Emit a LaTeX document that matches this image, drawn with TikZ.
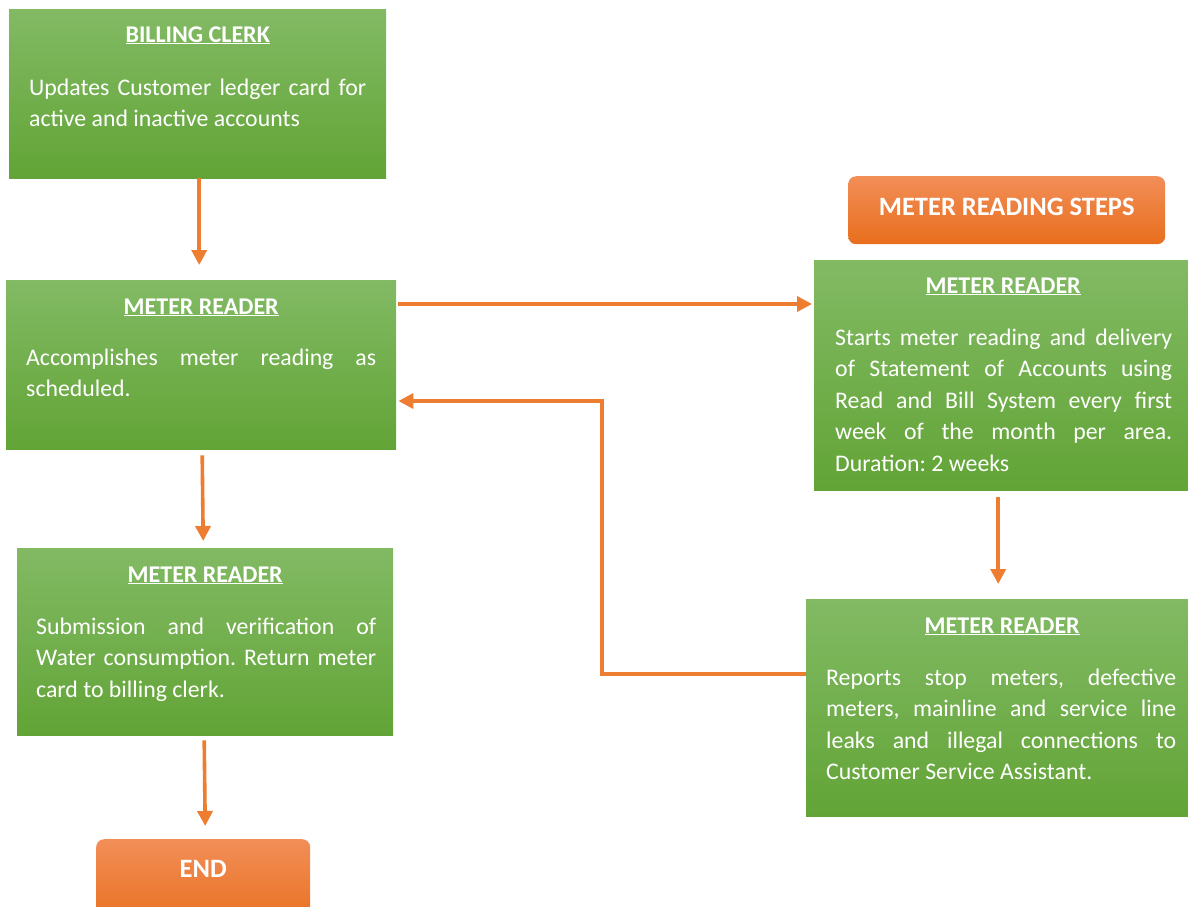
\documentclass[tikz,border=0pt]{standalone}
\usepackage{fontspec}
\setmainfont{Carlito}
\usetikzlibrary{arrows.meta,calc}
\definecolor{arrc}{RGB}{237,125,49}
\definecolor{gtop}{RGB}{130,186,100}
\definecolor{gmid}{RGB}{112,173,71}
\definecolor{gbot}{RGB}{98,164,54}
\definecolor{otop}{RGB}{242,142,88}
\definecolor{omid}{RGB}{241,124,40}
\definecolor{obot}{RGB}{232,110,28}
\begin{document}
\begin{tikzpicture}[x=1pt,y=-1pt,
  gbox/.style={rectangle,draw=none,inner sep=0pt,anchor=north west,
    top color=gtop,middle color=gmid,bottom color=gbot},
  obox/.style={rectangle,rounded corners=8pt,draw=none,inner sep=0pt,anchor=north west,
    top color=otop,middle color=omid,bottom color=obot},
  ttl/.style={anchor=base,inner sep=0pt,text=white,font=\fontsize{24}{28}\selectfont\bfseries},
  ottl/.style={anchor=base,inner sep=0pt,text=white,font=\fontsize{26.5}{30}\selectfont\bfseries},
  bodytext/.style={anchor=base west,inner sep=0pt,text=white,align=justify,
    font=\fontsize{23.8}{31.5}\selectfont\frenchspacing},
  arr/.style={draw=arrc,line width=3.6pt,-{Triangle[length=15pt,width=15pt]}}]
\useasboundingbox (0,0) rectangle (1188,906);
\clip (0,0) rectangle (1188,906);

% boxes
\node[gbox,minimum width=377pt,minimum height=169pt] (b1) at (9,9) {};
\node[gbox,minimum width=390pt,minimum height=169pt] (b2) at (6,280) {};
\node[gbox,minimum width=378pt,minimum height=230pt] (b3) at (814,260) {};
\node[gbox,minimum width=392pt,minimum height=217pt] (b4) at (806,599) {};
\node[gbox,minimum width=376pt,minimum height=187pt] (b5) at (17,548) {};
\node[obox,minimum width=317pt,minimum height=68pt] (steps) at (848,176) {};
\node[obox,minimum width=214pt,minimum height=90pt] (endb) at (96,839) {};

% titles
\node[ttl] (b1t) at ($(b1.north)+(0,33)$) {\underline{BILLING CLERK}};
\node[ttl] (b2t) at ($(b2.north)+(0,34)$) {\underline{METER READER}};
\node[ttl] (b3t) at ($(b3.north)+(0,33)$) {\underline{METER READER}};
\node[ttl] (b4t) at ($(b4.north)+(0,34)$) {\underline{METER READER}};
\node[ttl] (b5t) at ($(b5.north)+(0,34)$) {\underline{METER READER}};
\node[ottl] (stepst) at ($(steps.north)+(0,39)$) {METER READING STEPS};
\node[ottl] (endt) at ($(endb.north)+(0,38)$) {END};

% body texts
\node[bodytext,text width=337pt] (b1b) at ($(b1.north west)+(20,86)$)
  {Updates Customer ledger card for\linebreak active and inactive accounts};
\node[bodytext,text width=350pt] (b2b) at ($(b2.north west)+(20,85)$)
  {Accomplishes meter reading as\linebreak scheduled.};
\node[bodytext,text width=337pt] (b3b) at ($(b3.north west)+(21,85)$)
  {Starts meter reading and delivery\linebreak of Statement of Accounts using\linebreak Read and Bill System every first\linebreak week of the month per area.\linebreak Duration: 2 weeks};
\node[bodytext,text width=350pt] (b4b) at ($(b4.north west)+(20,86)$)
  {Reports stop meters, defective\linebreak meters, mainline and service line\linebreak leaks and illegal connections to\linebreak Customer Service Assistant.};
\node[bodytext,text width=340pt] (b5b) at ($(b5.north west)+(19,86)$)
  {Submission and verification of\linebreak Water consumption. Return meter\linebreak card to billing clerk.};

% connectors
\coordinate (elb) at (602,674);
\draw[arr] ($(b1.south)+(1.5,0)$) -- ($(b2.north)+(-2,-15)$);
\draw[arr] ($(b2.north east)+(2,24)$) -- ($(b3.north west)+(-2,44)$);
\draw[arr] ($(b3.south)+(-5,7)$) -- ($(b4.north)+(-4,-15)$);
\draw[arr] ($(b4.north west)+(0,75)$) -- (elb) |- ($(b2.north east)+(2,121)$);
\draw[arr] ($(b2.south)+(1,6)$) -- ($(b5.north)+(-2,-7)$);
\draw[arr] ($(b5.south)+(-1,5)$) -- ($(endb.north)+(2,-13)$);
\end{tikzpicture}
\end{document}
